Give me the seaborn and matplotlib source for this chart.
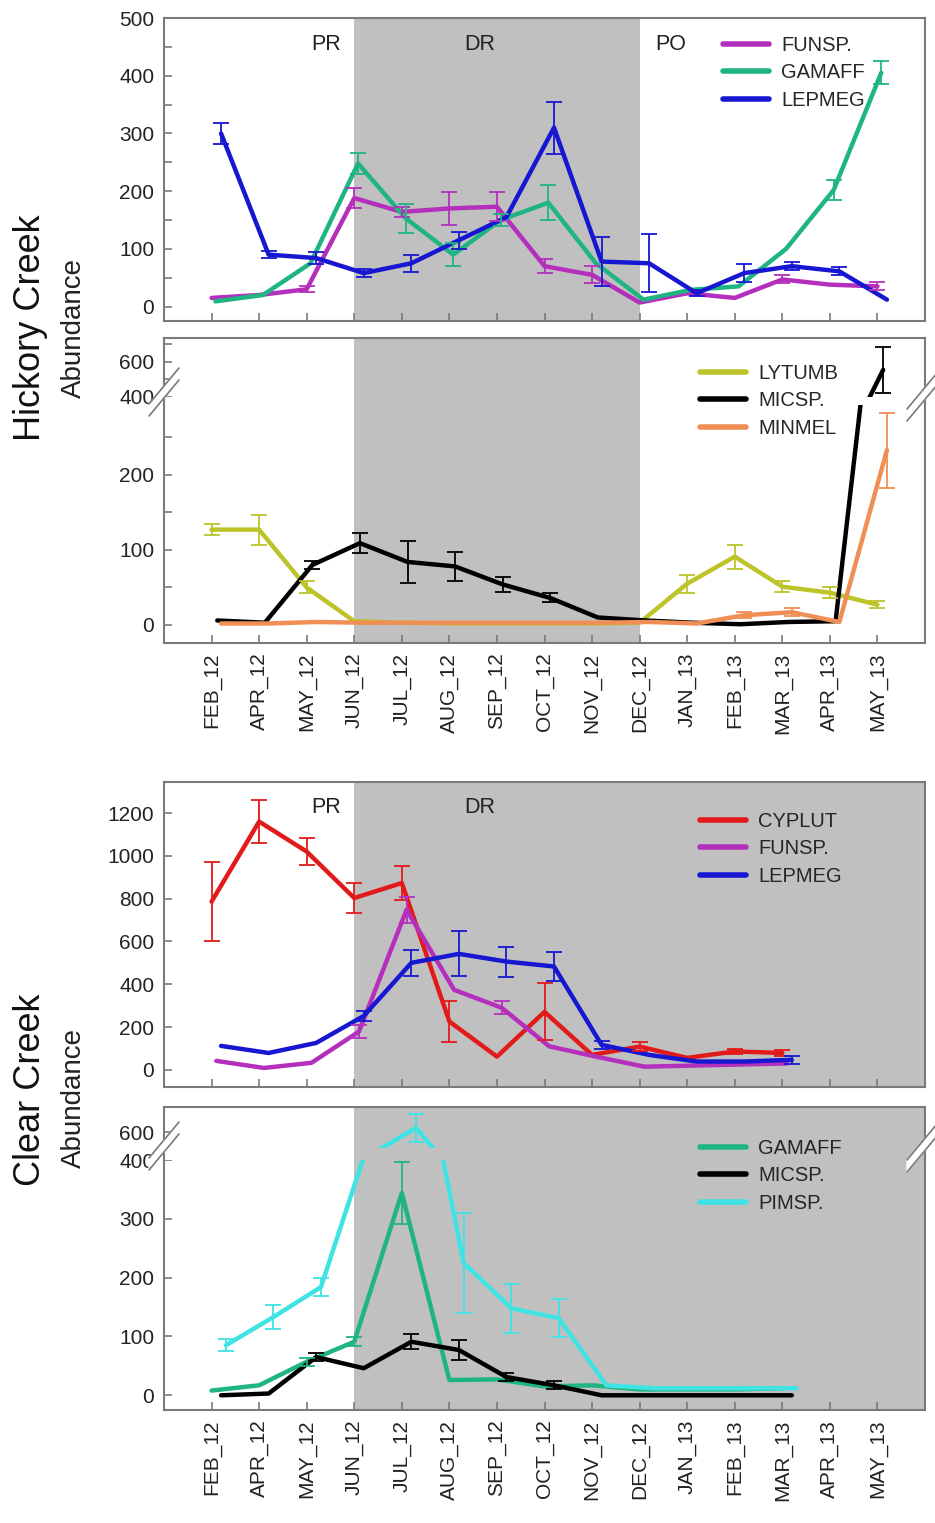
import numpy as np
import pandas as pd
import matplotlib
matplotlib.use("Agg")
import matplotlib.pyplot as plt
from matplotlib.lines import Line2D
from matplotlib.patches import Polygon
from matplotlib.ticker import MultipleLocator, FixedLocator
import seaborn as sns

sns.set_style("ticks")
plt.rcParams["font.family"] = ["Liberation Sans", "DejaVu Sans"]
plt.rcParams["xtick.direction"] = "in"
plt.rcParams["ytick.direction"] = "in"

nan = np.nan
months = ["FEB_12", "APR_12", "MAY_12", "JUN_12", "JUL_12", "AUG_12", "SEP_12",
          "OCT_12", "NOV_12", "DEC_12", "JAN_13", "FEB_13", "MAR_13", "APR_13", "MAY_13"]

# Hickory Creek, top panel
hc_funsp = [15, 20, 30, 188, 164, 170, 173, 70, 55, 7, 23, 15, 47, 38, 35]
hc_funsp_err = [0, 0, 5, 17, 8, 28, 25, 12, 15, 0, 0, 0, 7, 0, 7]
hc_gamaff = [9, 20, 75, 248, 153, 90, 150, 180, 75, 12, 29, 35, 100, 202, 405]
hc_gamaff_err = [0, 0, 0, 18, 25, 20, 10, 30, 0, 0, 0, 0, 0, 18, 20]
hc_lepmeg = [300, 90, 84, 58, 75, 115, 155, 310, 78, 75, 23, 58, 70, 61, 12]
hc_lepmeg_err = [18, 6, 10, 7, 15, 15, 0, 45, 43, 50, 5, 15, 7, 7, 0]

# Hickory Creek, bottom panel (broken axis)
hc_lytumb = [127, 127, 50, 5, 3, 2, 2, 2, 2, 3, 55, 91, 51, 43, 27]
hc_lytumb_err = [7, 20, 8, 0, 0, 0, 0, 0, 0, 0, 12, 16, 7, 7, 5]
hc_micsp = [6, 3, 80, 109, 84, 78, 54, 36, 10, 6, 3, 1, 4, 5, 555]
hc_micsp_err = [0, 0, 5, 13, 28, 19, 10, 6, 0, 0, 0, 0, 0, 0, 130]
hc_minmel = [2, 2, 4, 3, 3, 3, 3, 3, 3, 4, 2, 13, 17, 4, 233]
hc_minmel_err = [0, 0, 0, 0, 0, 0, 0, 0, 0, 0, 0, 4, 5, 0, 50]

# Clear Creek, top panel
cc_cyplut = [786, 1160, 1020, 803, 873, 226, 62, 271, 70, 109, 56, 86, 79, nan, nan]
cc_cyplut_err = [185, 100, 65, 68, 80, 97, 0, 133, 0, 20, 0, 12, 12, 0, 0]
cc_funsp = [42, 9, 33, 179, 748, 374, 290, 110, 61, 15, 20, 25, 30, nan, nan]
cc_funsp_err = [0, 0, 0, 30, 60, 0, 30, 0, 0, 0, 0, 0, 0, 0, 0]
cc_lepmeg = [112, 79, 126, 252, 500, 542, 506, 483, 117, 70, 39, 39, 47, nan, nan]
cc_lepmeg_err = [0, 0, 0, 25, 60, 105, 70, 70, 20, 0, 0, 0, 20, 0, 0]

# Clear Creek, bottom panel (broken axis)
cc_gamaff = [8, 17, 57, 91, 344, 26, 27, 15, 17, 10, 10, 10, 12, nan, nan]
cc_gamaff_err = [0, 0, 7, 8, 52, 0, 0, 0, 0, 0, 0, 0, 0, 0, 0]
cc_micsp = [0, 3, 65, 46, 91, 77, 31, 17, 0, 0, 0, 0, 0, nan, nan]
cc_micsp_err = [0, 0, 7, 0, 13, 17, 7, 7, 0, 0, 0, 0, 0, 0, 0]
cc_pimsp = [85, 133, 184, 430, 630, 225, 148, 131, 17, 12, 12, 12, 12, nan, nan]
cc_pimsp_err = [10, 20, 15, 0, 100, 85, 42, 32, 0, 0, 0, 0, 0, 0, 0]

colors = {"FUNSP.": "#b52fbd", "GAMAFF": "#1fb583", "LEPMEG": "#1717d2",
          "LYTUMB": "#bcc42a", "MICSP.": "#000000", "MINMEL": "#f08f55",
          "CYPLUT": "#e31a1a", "PIMSP.": "#3fe3e3"}
gray_bg = "#c0c0c0"
spine_col = "#7a7a7a"

W, H = 935, 1523
fig = plt.figure(figsize=(W / 100, H / 100), dpi=100)
X0, X1 = 164, 925


def add_ax(top, bottom):
    return fig.add_axes([X0 / W, 1 - bottom / H, (X1 - X0) / W, (bottom - top) / H])


def style(ax, hide_top=False, hide_bottom=False, xlabels=False, xticks=True):
    for s in ax.spines.values():
        s.set_color(spine_col)
        s.set_linewidth(1.5)
    if hide_top:
        ax.spines["top"].set_visible(False)
    if hide_bottom:
        ax.spines["bottom"].set_visible(False)
    ax.set_xlim(-1, 15)
    ax.set_xticks(range(len(months)))
    ax.set_xticklabels(months, rotation=90)
    ax.tick_params(axis="both", which="both", colors=spine_col, labelcolor="#222222",
                   labelsize=15, length=6, width=1.2, pad=7)
    ax.tick_params(axis="x", labelbottom=xlabels, bottom=xticks)
    ax.set_xlabel("")
    ax.set_ylabel("")


def draw(axes, series, offsets, span):
    rows = []
    for name, vals, errs in series:
        for i, (v, e) in enumerate(zip(vals, errs)):
            rows.append({"species": name, "x": i + offsets[name], "value": v, "err": e})
    df = pd.DataFrame(rows).dropna(subset=["value"])
    names = [s[0] for s in series]
    for ax in axes:
        ax.axvspan(span[0], span[1], color=gray_bg, lw=0, zorder=0)
        sns.lineplot(data=df, x="x", y="value", hue="species", hue_order=names,
                     palette=colors, linewidth=3.2, estimator=None, errorbar=None,
                     sort=False, legend=False, ax=ax, zorder=3)
        for name in names:
            d = df[(df["species"] == name) & (df["err"] > 0)]
            ax.errorbar(d["x"], d["value"], yerr=d["err"], fmt="none",
                        ecolor=colors[name], elinewidth=1.3, capsize=6,
                        capthick=1.3, zorder=4)


def legend(names, x, y):
    handles = [Line2D([], [], color=colors[n], lw=4) for n in names]
    fig.legend(handles, names, loc="upper left", bbox_to_anchor=(x / W, 1 - y / H),
               frameon=False, fontsize=14.5, handlelength=2.3, handletextpad=0.6,
               labelspacing=0.42, borderpad=0, borderaxespad=0)


def fig_line(xs, ys, **kw):
    fig.add_artist(Line2D([x / W for x in xs], [1 - y / H for y in ys],
                          transform=fig.transFigure, **kw))


def gap_fill(top, bottom, span):
    # spines and background across the gap between the two halves of a broken axis
    fig.add_artist(Polygon([(X0 / W, 1 - top / H), (X1 / W, 1 - top / H),
                            (X1 / W, 1 - bottom / H), (X0 / W, 1 - bottom / H)],
                           closed=True, transform=fig.transFigure, color="white",
                           lw=0, zorder=1))
    xs = [X0 + (X1 - X0) * (min(v, 15) + 1) / 16 for v in span]
    fig.add_artist(Polygon([(xs[0] / W, 1 - top / H), (xs[1] / W, 1 - top / H),
                            (xs[1] / W, 1 - bottom / H), (xs[0] / W, 1 - bottom / H)],
                           closed=True, transform=fig.transFigure, color=gray_bg,
                           lw=0, zorder=1))
    for x in (X0, X1):
        fig_line([x, x], [top - 1, bottom + 1], color=spine_col, lw=1.5, zorder=2)


def break_marks(xc, yc):
    # two parallel diagonal strokes with a white gap between them
    dx, dy, gap = 15, 18, 6
    poly = Polygon([((xc - dx) / W, 1 - (yc + dy) / H),
                    ((xc + dx) / W, 1 - (yc - dy) / H),
                    ((xc + dx) / W, 1 - (yc - dy - 2 * gap) / H),
                    ((xc - dx) / W, 1 - (yc + dy - 2 * gap) / H)],
                   closed=True, transform=fig.transFigure, color="white", zorder=10)
    fig.add_artist(poly)
    for off in (0, 2 * gap):
        fig_line([xc - dx, xc + dx], [yc + dy - off, yc - dy - off],
                 color=spine_col, lw=1.2, zorder=11)


# ---------------- Hickory Creek ----------------
ax1 = add_ax(18, 321)
draw([ax1], [("FUNSP.", hc_funsp, hc_funsp_err),
             ("GAMAFF", hc_gamaff, hc_gamaff_err),
             ("LEPMEG", hc_lepmeg, hc_lepmeg_err)],
     {"FUNSP.": 0.0, "GAMAFF": 0.08, "LEPMEG": 0.2}, (3, 9))
style(ax1)
ax1.set_ylim(-25, 500)
ax1.yaxis.set_major_locator(MultipleLocator(100))
ax1.yaxis.set_minor_locator(MultipleLocator(50))
for lab, xp in [("PR", 2.4), ("DR", 5.63), ("PO", 9.66)]:
    ax1.text(xp, 0.914, lab, transform=ax1.get_xaxis_transform(), fontsize=15.5,
             ha="center", va="center", color="#222222")
legend(["FUNSP.", "GAMAFF", "LEPMEG"], 723, 36)

ax2u = add_ax(338, 397)
ax2l = add_ax(405, 643)
gap_fill(397, 405, (3, 9))
draw([ax2u, ax2l], [("LYTUMB", hc_lytumb, hc_lytumb_err),
                    ("MICSP.", hc_micsp, hc_micsp_err),
                    ("MINMEL", hc_minmel, hc_minmel_err)],
     {"LYTUMB": 0.0, "MICSP.": 0.12, "MINMEL": 0.2}, (3, 9))
style(ax2u, hide_bottom=True, xticks=False)
style(ax2l, hide_top=True, xlabels=True)
ax2u.set_ylim(400, 737)
ax2u.yaxis.set_major_locator(FixedLocator([400, 600]))
ax2u.yaxis.set_minor_locator(FixedLocator([500, 700]))
ax2l.set_ylim(-24, 293)
ax2l.yaxis.set_major_locator(FixedLocator([0, 100, 200]))
ax2l.yaxis.set_minor_locator(FixedLocator([50, 150, 250]))
legend(["LYTUMB", "MICSP.", "MINMEL"], 700, 364)
break_marks(164, 398)
break_marks(922, 403)

# ---------------- Clear Creek ----------------
ax3 = add_ax(782, 1087)
draw([ax3], [("CYPLUT", cc_cyplut, cc_cyplut_err),
             ("FUNSP.", cc_funsp, cc_funsp_err),
             ("LEPMEG", cc_lepmeg, cc_lepmeg_err)],
     {"CYPLUT": 0.0, "FUNSP.": 0.1, "LEPMEG": 0.2}, (3, 15.5))
style(ax3)
ax3.set_ylim(-80, 1345)
ax3.yaxis.set_major_locator(MultipleLocator(200))
for lab, xp in [("PR", 2.4), ("DR", 5.63)]:
    ax3.text(xp, 0.915, lab, transform=ax3.get_xaxis_transform(), fontsize=15.5,
             ha="center", va="center", color="#222222")
legend(["CYPLUT", "FUNSP.", "LEPMEG"], 700, 812)

ax4u = add_ax(1107, 1148)
ax4l = add_ax(1160, 1410)
gap_fill(1148, 1160, (3, 15.5))
draw([ax4u, ax4l], [("GAMAFF", cc_gamaff, cc_gamaff_err),
                    ("MICSP.", cc_micsp, cc_micsp_err),
                    ("PIMSP.", cc_pimsp, cc_pimsp_err)],
     {"GAMAFF": 0.0, "MICSP.": 0.2, "PIMSP.": 0.3}, (3, 15.5))
style(ax4u, hide_bottom=True, xticks=False)
style(ax4l, hide_top=True, xlabels=True)
ax4u.set_ylim(486, 779)
ax4u.yaxis.set_major_locator(FixedLocator([600]))
ax4l.set_ylim(-25, 400)
ax4l.yaxis.set_major_locator(FixedLocator([0, 100, 200, 300, 400]))
legend(["GAMAFF", "MICSP.", "PIMSP."], 700, 1139)
break_marks(164, 1152)
break_marks(922, 1154)

# side labels
fig.text(30 / W, 1 - 328 / H, "Hickory Creek", rotation=90, fontsize=26,
         ha="center", va="center", color="#111111")
fig.text(74 / W, 1 - 328 / H, "Abundance", rotation=90, fontsize=20,
         ha="center", va="center", color="#222222")
fig.text(30 / W, 1 - 1090 / H, "Clear Creek", rotation=90, fontsize=26,
         ha="center", va="center", color="#111111")
fig.text(74 / W, 1 - 1098 / H, "Abundance", rotation=90, fontsize=20,
         ha="center", va="center", color="#222222")

fig.savefig("out.png", dpi=100)
